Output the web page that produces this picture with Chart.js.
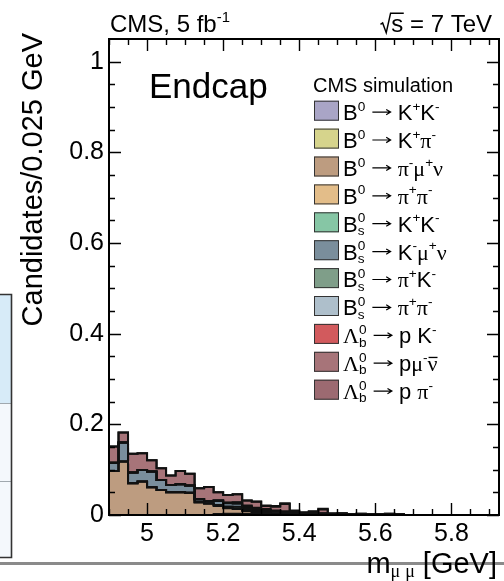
<!DOCTYPE html>
<html>
<head>
<meta charset="utf-8">
<title>Endcap dimuon backgrounds</title>
<script src="https://cdn.jsdelivr.net/npm/chart.js@4.4.1/dist/chart.umd.min.js"></script>
<style>
  html, body { margin: 0; padding: 0; background: #fff; }
  canvas { display: block; }
</style>
</head>
<body>
<canvas id="massChart" width="504" height="581"></canvas>
<script>
"use strict";


// Stacked m(mumu) backgrounds in the endcap, 25 MeV bins


const binEdges = [4.9, 4.925, 4.95, 4.975, 5.0, 5.025, 5.05, 5.075, 5.1, 5.125, 5.15,
                  5.175, 5.2, 5.225, 5.25, 5.275, 5.3, 5.325, 5.35, 5.375, 5.4, 5.425,
                  5.45, 5.475, 5.5, 5.525, 5.55, 5.575, 5.6, 5.625, 5.65, 5.675, 5.7];

const xTickValues = [5, 5.2, 5.4, 5.6, 5.8];
const yTickValues = [0, 0.2, 0.4, 0.6, 0.8, 1];

// one array per decay, bottom of the stack first
const b0KK     = [0, 0, 0, 0, 0, 0, 0, 0, 0, 0, 0, 0, 0, 0, 0, 0, 0, 0, 0, 0, 0, 0, 0, 0, 0, 0, 0, 0, 0, 0, 0, 0];
const b0KPi    = [0, 0, 0, 0, 0, 0, 0, 0, 0, 0, 0, 0.002, 0.003, 0.003, 0.003, 0.002, 0.002, 0.001, 0, 0, 0, 0, 0, 0, 0, 0, 0, 0, 0, 0, 0, 0];
const b0PiMuNu = [0.097, 0.118, 0.070, 0.074, 0.061, 0.055, 0.050, 0.050, 0.049, 0.028, 0.025, 0.018, 0.012, 0.010, 0.006, 0.004,
                  0.003, 0.002, 0.001, 0.001, 0, 0, 0, 0, 0, 0, 0, 0, 0, 0, 0, 0];
const b0PiPi   = [0, 0, 0, 0, 0, 0, 0, 0, 0, 0, 0.001, 0.002, 0.002, 0.002, 0.002, 0.001, 0.001, 0, 0, 0, 0, 0, 0, 0, 0, 0, 0, 0, 0, 0, 0, 0];
const bsKK     = [0, 0, 0, 0, 0, 0, 0, 0, 0, 0, 0, 0, 0.002, 0.003, 0.003, 0.003, 0.002, 0.001, 0.001, 0, 0, 0, 0, 0, 0, 0, 0, 0, 0, 0, 0, 0];
const bsKMuNu  = [0.018, 0.042, 0.024, 0.025, 0.035, 0.022, 0.016, 0.018, 0.016, 0.007, 0.005, 0.009, 0.007, 0.007, 0.003, 0.003,
                  0.002, 0.004, 0.004, 0.003, 0.003, 0.003, 0.003, 0.002, 0.002, 0.001, 0.002, 0.001, 0.001, 0.002, 0.001, 0];
const bsPiK    = [0, 0, 0, 0, 0, 0, 0, 0, 0, 0, 0, 0.001, 0.001, 0.002, 0.002, 0.001, 0.001, 0, 0, 0, 0, 0, 0, 0, 0, 0, 0, 0, 0, 0, 0, 0];
const bsPiPi   = [0, 0, 0, 0, 0, 0, 0, 0, 0, 0, 0, 0, 0, 0, 0, 0, 0, 0, 0, 0, 0, 0, 0, 0, 0, 0, 0, 0, 0, 0, 0, 0];
const lbPK     = [0, 0, 0, 0, 0, 0, 0, 0, 0, 0, 0, 0, 0, 0.001, 0.002, 0.002, 0.002, 0.002, 0.002, 0.001, 0.001, 0.001, 0.001, 0, 0, 0, 0, 0, 0, 0, 0, 0];
const lbPMuNu  = [0.036, 0.022, 0.041, 0.037, 0.025, 0.026, 0.021, 0.029, 0.026, 0.024, 0.031, 0.018, 0.017, 0.018, 0.011, 0.013,
                  0.007, 0.008, 0.016, 0.003, 0.001, 0.003, 0.008, 0.001, 0.002, 0.001, 0.001, 0, 0, 0.001, 0, 0];
const lbPPi    = [0, 0, 0, 0, 0, 0, 0, 0, 0, 0, 0, 0, 0, 0, 0, 0.001, 0.001, 0.002, 0.002, 0.002, 0.001, 0.001, 0.002, 0.001, 0, 0, 0, 0, 0, 0, 0, 0];

const decaySeries = [b0KK, b0KPi, b0PiMuNu, b0PiPi, bsKK, bsKMuNu, bsPiK, bsPiPi, lbPK, lbPMuNu, lbPPi];

const decayLabels = [
    "B^{0} #rightarrow K^{+}K^{-}",
    "B^{0} #rightarrow K^{+}#pi^{-}",
    "B^{0} #rightarrow #pi^{-}#mu^{+}#nu",
    "B^{0} #rightarrow #pi^{+}#pi^{-}",
    "B^{0}_{s} #rightarrow K^{+}K^{-}",
    "B^{0}_{s} #rightarrow K^{-}#mu^{+}#nu",
    "B^{0}_{s} #rightarrow #pi^{+}K^{-}",
    "B^{0}_{s} #rightarrow #pi^{+}#pi^{-}",
    "#Lambda^{0}_{b} #rightarrow p K^{-}",
    "#Lambda^{0}_{b} #rightarrow p#mu^{-}#bar{#nu}",
    "#Lambda^{0}_{b} #rightarrow p #pi^{-}"
];

const decayColors = ["#a9a5c6", "#d6d48c", "#bd9c80", "#e3bd89", "#86c6a5", "#7a8e9c",
                     "#7f9e89", "#aebfcb", "#d25a5d", "#a77479", "#9c6a71"];


// tiny TLatex-ish renderer for the labels
const symbols = { pi: "\u03c0", mu: "\u03bc", nu: "\u03bd", Lambda: "\u039b" };

function parseTex(src) {
    let items = [];
    let i = 0;
    let readGroup = function() {
        let depth = 0, start = i + 1;
        for (; i < src.length; i++) {
            if (src[i] === "{") depth++;
            else if (src[i] === "}" && --depth === 0) break;
        }
        let inner = src.slice(start, i);
        i++;
        return inner;
    };
    let pushText = function(text, serif) {
        let last = items[items.length - 1];
        if (last && last.kind === "text" && last.serif === serif) last.text += text;
        else items.push({ kind: "text", text: text, serif: serif });
    };
    while (i < src.length) {
        let c = src[i];
        if (c === "^" || c === "_") {
            i++;
            items.push({ kind: c === "^" ? "sup" : "sub", parts: parseTex(readGroup()) });
        } else if (c === "#") {
            let name = /^[A-Za-z]+/.exec(src.slice(i + 1))[0];
            i += 1 + name.length;
            if (name === "bar" || name === "sqrt") items.push({ kind: name, parts: parseTex(readGroup()) });
            else if (name === "rightarrow") items.push({ kind: "arrow" });
            else pushText(symbols[name], true);
        } else {
            pushText(c, false);
            i++;
        }
    }
    return items;
}

function texFont(size, serif) {
    return size + "px " + (serif ? "'Liberation Serif', serif" : "'Liberation Sans', Arial, sans-serif");
}

function renderTex(ctx, items, x, y, size, paint) {
    let cx = x;
    for (let k = 0; k < items.length; k++) {
        let it = items[k];
        if (it.kind === "text") {
            ctx.font = texFont(size, it.serif);
            if (paint) ctx.fillText(it.text, cx, y);
            cx += ctx.measureText(it.text).width;
        } else if (it.kind === "sup" || it.kind === "sub") {
            let small = size * 0.62;
            let next = items[k + 1];
            if (it.kind === "sup" && next && next.kind === "sub") {
                let w1 = renderTex(ctx, it.parts, cx, y - size * 0.42, small, paint);
                let w2 = renderTex(ctx, next.parts, cx, y + size * 0.15, small, paint);
                cx += Math.max(w1, w2);
                k++;
            } else {
                let dy = it.kind === "sup" ? -size * 0.42 : size * 0.15;
                cx += renderTex(ctx, it.parts, cx, y + dy, small, paint);
            }
        } else if (it.kind === "arrow") {
            let w = size * 0.92;
            if (paint) {
                let ay = y - size * 0.36;
                ctx.lineWidth = 1.2;
                ctx.beginPath();
                ctx.moveTo(cx + 1, ay);
                ctx.lineTo(cx + w - 1, ay);
                ctx.moveTo(cx + w - 1 - size * 0.2, ay - size * 0.12);
                ctx.lineTo(cx + w - 1, ay);
                ctx.lineTo(cx + w - 1 - size * 0.2, ay + size * 0.12);
                ctx.stroke();
            }
            cx += w;
        } else if (it.kind === "bar") {
            let w = renderTex(ctx, it.parts, cx, y, size, paint);
            if (paint) {
                ctx.lineWidth = size * 0.06;
                ctx.beginPath();
                ctx.moveTo(cx + 1, y - size * 0.62);
                ctx.lineTo(cx + w, y - size * 0.62);
                ctx.stroke();
            }
            cx += w;
        } else if (it.kind === "sqrt") {
            let rw = size * 0.48;
            let w = renderTex(ctx, it.parts, cx + rw, y, size, paint);
            if (paint) {
                ctx.lineWidth = size * 0.06;
                ctx.beginPath();
                ctx.moveTo(cx + size * 0.03, y - size * 0.32);
                ctx.lineTo(cx + size * 0.12, y - size * 0.38);
                ctx.lineTo(cx + size * 0.27, y + size * 0.03);
                ctx.lineTo(cx + size * 0.45, y - size * 0.78);
                ctx.lineTo(cx + rw + w + size * 0.02, y - size * 0.78);
                ctx.stroke();
            }
            cx += rw + w;
        }
    }
    return cx - x;
}

function drawTex(ctx, src, x, y, size, align) {
    let items = parseTex(src);
    let w = renderTex(ctx, items, 0, 0, size, false);
    let x0 = align === "right" ? x - w : x;
    renderTex(ctx, items, x0, y, size, true);
}


// points sit on the low bin edges; the last one closes the outline at zero
function histPoints(values) {
    let pts = values.map((v, i) => ({ x: binEdges[i], y: v }));
    pts.push({ x: binEdges[values.length], y: 0 });
    return pts;
}

let datasets = decaySeries.map((values, i) => ({
    label: decayLabels[i],
    data: histPoints(values),
    backgroundColor: decayColors[i],
    borderColor: "#111",
    borderWidth: 2,
    fill: i === 0 ? "origin" : "-1",
    stepped: "before",
    pointRadius: 0
}));


// frame with inward ticks on all four sides
const framePlugin = {
    id: "frame",
    afterDatasetsDraw(chart) {
        let ctx = chart.ctx, a = chart.chartArea;
        let xs = chart.scales.x, ys = chart.scales.y;
        ctx.save();
        ctx.strokeStyle = "#000";
        ctx.lineWidth = 1.4;
        ctx.beginPath();
        for (let k = 0; ; k++) {
            let v = 4.9 + k * 0.05;
            if (v > xs.max + 1e-9) break;
            let px = Math.round(xs.getPixelForValue(v)) + 0.5;
            let len = xTickValues.some(t => Math.abs(t - v) < 1e-6) ? 12 : 6;
            ctx.moveTo(px, a.bottom); ctx.lineTo(px, a.bottom - len);
            ctx.moveTo(px, a.top); ctx.lineTo(px, a.top + len);
        }
        for (let k = 0; ; k++) {
            let v = k * 0.05;
            if (v > ys.max - 1e-9) break;
            let py = Math.round(ys.getPixelForValue(v)) + 0.5;
            let len = yTickValues.some(t => Math.abs(t - v) < 1e-6) ? 12 : 6;
            ctx.moveTo(a.left, py); ctx.lineTo(a.left + len, py);
            ctx.moveTo(a.right, py); ctx.lineTo(a.right - len, py);
        }
        ctx.stroke();
        ctx.lineWidth = 2;
        ctx.strokeRect(a.left, a.top, a.right - a.left, a.bottom - a.top);
        ctx.restore();
    }
};

const textPlugin = {
    id: "texts",
    beforeDraw(chart) {
        // edge of the neighbouring table
        let ctx = chart.ctx;
        ctx.save();
        ctx.fillStyle = "#d7ebf8";
        ctx.fillRect(0, 294, 11, 109);
        ctx.fillStyle = "#f4f8fc";
        ctx.fillRect(0, 403, 11, 154);
        ctx.strokeStyle = "#a0a8ae";
        ctx.lineWidth = 1;
        ctx.beginPath();
        ctx.moveTo(0, 403.5); ctx.lineTo(11, 403.5);
        ctx.moveTo(0, 481.5); ctx.lineTo(11, 481.5);
        ctx.stroke();
        ctx.strokeStyle = "#333";
        ctx.lineWidth = 1.6;
        ctx.beginPath();
        ctx.moveTo(0, 294.5); ctx.lineTo(11.5, 294.5); ctx.lineTo(11.5, 557.5); ctx.lineTo(0, 557.5);
        ctx.stroke();
        ctx.restore();
    },
    afterDraw(chart) {
        let ctx = chart.ctx;
        ctx.save();
        ctx.fillStyle = "#000";
        ctx.strokeStyle = "#000";
        ctx.textBaseline = "alphabetic";

        drawTex(ctx, "CMS, 5 fb^{-1}", 110, 32, 24, "left");
        drawTex(ctx, "#sqrt{s} = 7 TeV", 492, 32, 24, "right");

        ctx.font = texFont(35, false);
        ctx.fillText("Endcap", 149, 98);

        // y title
        ctx.save();
        ctx.translate(42, 33);
        ctx.rotate(-Math.PI / 2);
        ctx.textAlign = "right";
        ctx.font = texFont(29, false);
        ctx.fillText("Candidates/0.025 GeV", 0, 0);
        ctx.restore();

        // rule under the figure, title sits on it
        ctx.fillStyle = "#8a8a8a";
        ctx.fillRect(0, 562, 504, 3);
        ctx.fillStyle = "#000";
        drawTex(ctx, "m_{#mu #mu} [GeV]", 497, 573, 29, "right");

        // legend
        ctx.font = texFont(20, false);
        ctx.fillText("CMS simulation", 313, 92);
        chart.data.datasets.forEach((ds, i) => {
            let top = 100.7 + i * 27.9;
            ctx.fillStyle = ds.backgroundColor;
            ctx.fillRect(314, top, 25, 20);
            ctx.strokeStyle = "#333";
            ctx.lineWidth = 1;
            ctx.strokeRect(314.5, top + 0.5, 24, 19);
            ctx.fillStyle = "#000";
            ctx.strokeStyle = "#000";
            drawTex(ctx, ds.label, 343, top + 19.3, 22, "left");
        });
        ctx.restore();
    }
};

let tickFont = { family: "'Liberation Sans', Arial, sans-serif", size: 25 };

let ctx_mass = document.getElementById("massChart").getContext("2d");

let massChart = new Chart(ctx_mass, {
    type: "line",
    data: { datasets: datasets },
    options: {
        responsive: false,
        animation: false,
        devicePixelRatio: 1,
        layout: { padding: { top: 39, right: 5, left: 0, bottom: 0 } },
        plugins: {
            legend: { display: false },
            tooltip: { enabled: false },
            filler: { drawTime: "beforeDatasetsDraw" }
        },
        scales: {
            x: {
                type: "linear",
                min: 4.9,
                max: 5.925,
                grid: { display: false, drawTicks: false },
                border: { display: false },
                ticks: { font: tickFont, color: "#000", padding: 4, maxRotation: 0, autoSkip: false,
                         callback: v => String(v) },
                afterBuildTicks: s => { s.ticks = xTickValues.map(v => ({ value: v })); },
                afterFit: s => { s.height = 66; }
            },
            y: {
                stacked: true,
                min: 0,
                max: 1.05,
                grid: { display: false, drawTicks: false },
                border: { display: false },
                ticks: { font: tickFont, color: "#000", padding: 5, autoSkip: false,
                         callback: v => String(v) },
                afterBuildTicks: s => { s.ticks = yTickValues.map(v => ({ value: v })); },
                afterFit: s => { s.width = 109; }
            }
        }
    },
    plugins: [framePlugin, textPlugin]
});
</script>
</body>
</html>
